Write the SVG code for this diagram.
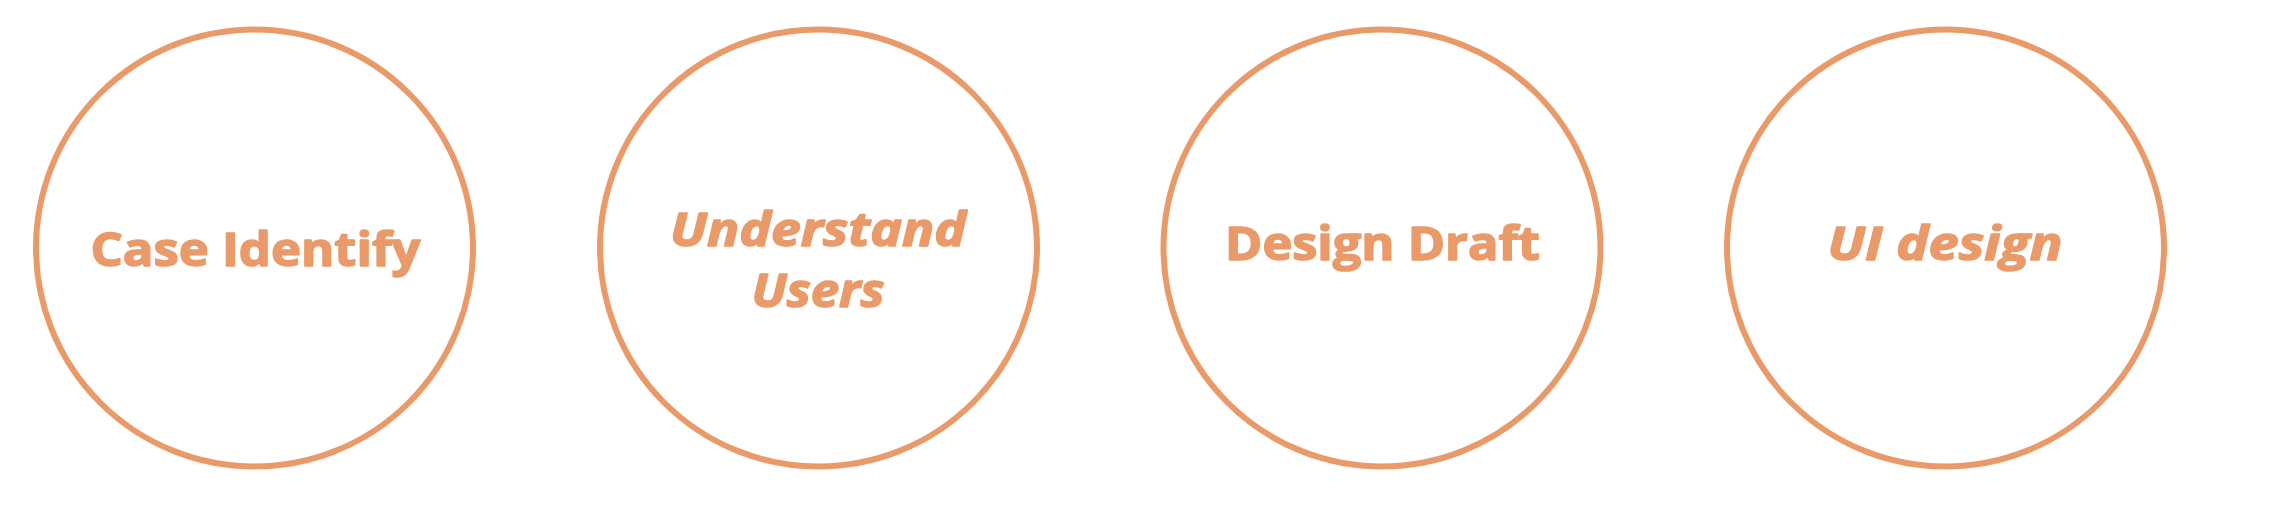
<svg xmlns="http://www.w3.org/2000/svg" width="2282" height="506" viewBox="0 0 2282 506">
<style>
.c{fill:none;stroke:#EA9A69;stroke-width:6}
.t{font-family:"Open Sans","DejaVu Sans",sans-serif;font-weight:bold;font-size:47px;fill:#EA9A69;stroke:#EA9A69;stroke-width:1.5;stroke-linejoin:round;text-anchor:middle}
.i{font-style:italic}
</style>
<rect width="2282" height="506" fill="#fff"/>
<g id="connectors"></g>
<g id="node-case-identify">
<circle class="c" cx="254.5" cy="248" r="218.5"/>
<text class="t" x="255.5" y="266" textLength="330" lengthAdjust="spacingAndGlyphs">Case Identify</text>
</g>
<g id="node-understand-users">
<circle class="c" cx="818.5" cy="248" r="218.5"/>
<text class="t i" x="818" y="245.5" textLength="296" lengthAdjust="spacingAndGlyphs">Understand</text>
<text class="t i" x="818" y="306.5" textLength="133" lengthAdjust="spacingAndGlyphs">Users</text>
</g>
<g id="node-design-draft">
<circle class="c" cx="1382" cy="248" r="218.5"/>
<text class="t" x="1382.5" y="260" textLength="315" lengthAdjust="spacingAndGlyphs">Design Draft</text>
</g>
<g id="node-ui-design">
<circle class="c" cx="1945.5" cy="248" r="218.5"/>
<text class="t i" x="1945" y="260" textLength="235" lengthAdjust="spacingAndGlyphs">UI design</text>
</g>
</svg>
